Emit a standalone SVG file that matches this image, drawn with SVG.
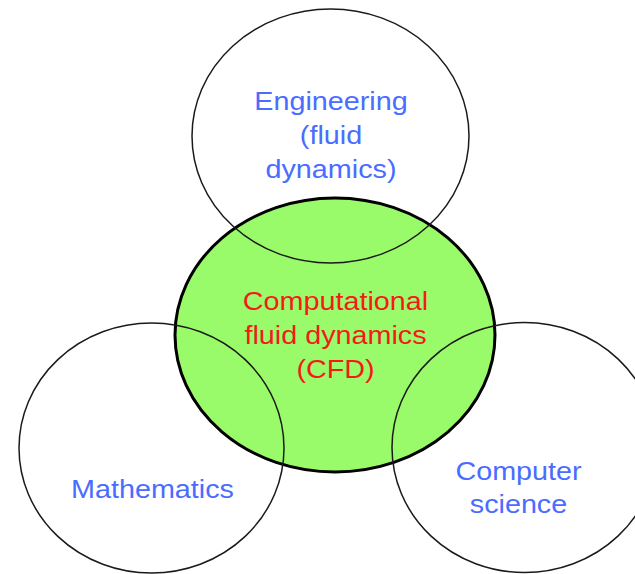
<svg xmlns="http://www.w3.org/2000/svg" width="635" height="574" viewBox="0 0 635 574">
<style>
.thin{fill:none;stroke:#1a1a1a;stroke-width:1.5}
.core{fill:#99fa6a;stroke:#000;stroke-width:3}
.lbl{font-family:"Liberation Sans",Arial,sans-serif;font-size:25px;text-anchor:middle}
.blue{fill:#4a6cff}
.red{fill:#f51a1a}
</style>
<rect width="635" height="574" fill="#fff"/>
<g id="cfd">
<ellipse class="core" cx="335" cy="335" rx="160" ry="137"/>
</g>
<g id="engineering">
<ellipse class="thin" cx="330.5" cy="136" rx="138.5" ry="127"/>
<text class="lbl blue" transform="translate(331,0) scale(1.15,1)"><tspan x="0" y="110">Engineering</tspan><tspan x="0" y="144">(fluid</tspan><tspan x="0" y="178">dynamics)</tspan></text>
</g>
<g id="mathematics">
<ellipse class="thin" cx="151.5" cy="448" rx="132.5" ry="125"/>
<text class="lbl blue" transform="translate(152.5,0) scale(1.15,1)"><tspan x="0" y="498">Mathematics</tspan></text>
</g>
<g id="computer-science">
<ellipse class="thin" cx="524.5" cy="447.5" rx="132.5" ry="125"/>
<text class="lbl blue" transform="translate(518.5,0) scale(1.15,1)"><tspan x="0" y="480">Computer</tspan><tspan x="0" y="513">science</tspan></text>
</g>
<g id="cfd-label">
<text class="lbl red" transform="translate(335.5,0) scale(1.15,1)"><tspan x="0" y="310">Computational</tspan><tspan x="0" y="344">fluid dynamics</tspan><tspan x="0" y="378">(CFD)</tspan></text>
</g>
</svg>
